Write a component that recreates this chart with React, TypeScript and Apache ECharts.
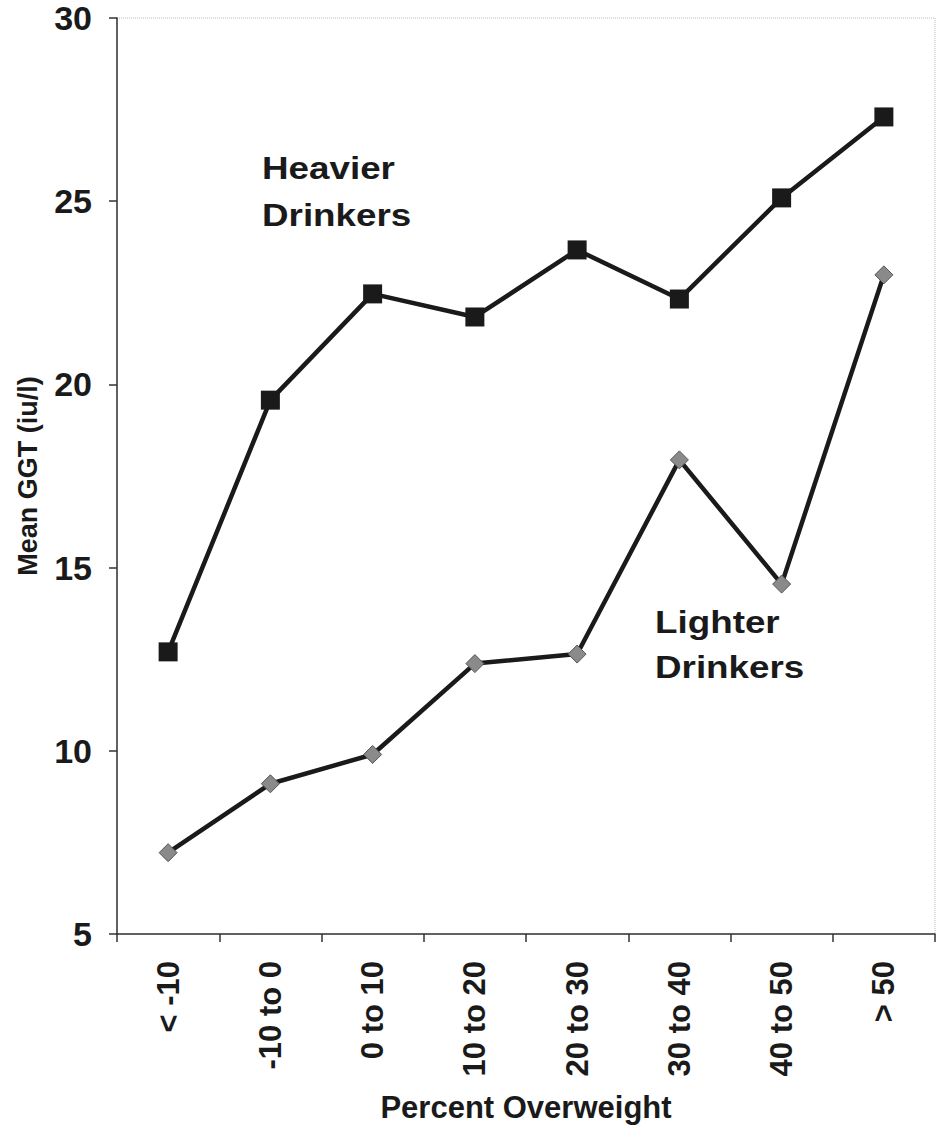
import React, { useEffect, useRef } from "react";
import * as echarts from "echarts";

const categories = ["< -10", "-10 to 0", "0 to 10", "10 to 20", "20 to 30", "30 to 40", "40 to 50", "> 50"];
const heavierDrinkers = [12.7, 19.57, 22.47, 21.84, 23.67, 22.33, 25.09, 27.3];
const lighterDrinkers = [7.22, 9.1, 9.9, 12.38, 12.64, 17.94, 14.55, 22.99];
const yTicks = { min: 5, max: 30, interval: 5 };

const FONT = "'Liberation Sans', Arial, sans-serif";

export default function App() {
  const ref = useRef<HTMLDivElement>(null);
  useEffect(() => {
    if (!ref.current) return;
    const chart = echarts.init(ref.current, undefined, { renderer: "svg" });
    chart.setOption({
      animation: false,
      backgroundColor: "#ffffff",
      grid: {
        left: 117,
        right: 7,
        top: 18,
        bottom: 197,
        containLabel: false,
        outerBoundsMode: "none",
        show: true,
        borderColor: "#b8b8b8",
        borderWidth: 1,
        borderType: "dotted",
      },
      xAxis: {
        type: "category",
        data: categories,
        boundaryGap: true,
        name: "Percent Overweight",
        nameLocation: "middle",
        nameGap: 158,
        nameTextStyle: { fontFamily: FONT, fontWeight: "bold", fontSize: 31, color: "#1a1a1a" },
        axisLine: { lineStyle: { color: "#333", width: 1.5 } },
        axisTick: { show: true, length: 8, alignWithLabel: false, lineStyle: { color: "#333", width: 1.5 } },
        axisLabel: {
          rotate: 90,
          margin: 27,
          fontFamily: FONT,
          fontWeight: "bold",
          fontSize: 31,
          color: "#1a1a1a",
          interval: 0,
        },
        splitLine: { show: false },
      },
      yAxis: {
        type: "value",
        min: yTicks.min,
        max: yTicks.max,
        interval: yTicks.interval,
        name: "Mean GGT (iu/l)",
        nameLocation: "middle",
        nameGap: 76,
        nameTextStyle: { fontFamily: FONT, fontWeight: "bold", fontSize: 27, color: "#1a1a1a" },
        axisLine: { show: true, lineStyle: { color: "#333", width: 1.5 } },
        axisTick: { show: true, length: 8, lineStyle: { color: "#333", width: 1.5 } },
        axisLabel: {
          margin: 25,
          fontFamily: FONT,
          fontWeight: "bold",
          fontSize: 34,
          color: "#1a1a1a",
        },
        splitLine: { show: false },
      },
      series: [
        {
          name: "Heavier Drinkers",
          type: "line",
          data: heavierDrinkers,
          symbol: "rect",
          symbolSize: 19,
          lineStyle: { color: "#1a1a1a", width: 4.5 },
          itemStyle: { color: "#1a1a1a" },
          z: 3,
        },
        {
          name: "Lighter Drinkers",
          type: "line",
          data: lighterDrinkers,
          symbol: "diamond",
          symbolSize: 18,
          lineStyle: { color: "#1a1a1a", width: 4.5 },
          itemStyle: { color: "#8a8a8a", borderColor: "#555", borderWidth: 1 },
          z: 3,
        },
      ],
      graphic: [
        {
          type: "text",
          x: 262,
          y: 144,
          scaleX: 1.15,
          style: {
            text: "Heavier\nDrinkers",
            fontFamily: FONT,
            fontWeight: "bold",
            fontSize: 32,
            lineHeight: 47,
            fill: "#1a1a1a",
          },
        },
        {
          type: "text",
          x: 655,
          y: 599,
          scaleX: 1.15,
          style: {
            text: "Lighter\nDrinkers",
            fontFamily: FONT,
            fontWeight: "bold",
            fontSize: 32,
            lineHeight: 45,
            fill: "#1a1a1a",
          },
        },
      ],
    });
    return () => chart.dispose();
  }, []);
  return <div ref={ref} style={{ width: 942, height: 1131, position: "absolute", left: 0, top: 0 }} />;
}
